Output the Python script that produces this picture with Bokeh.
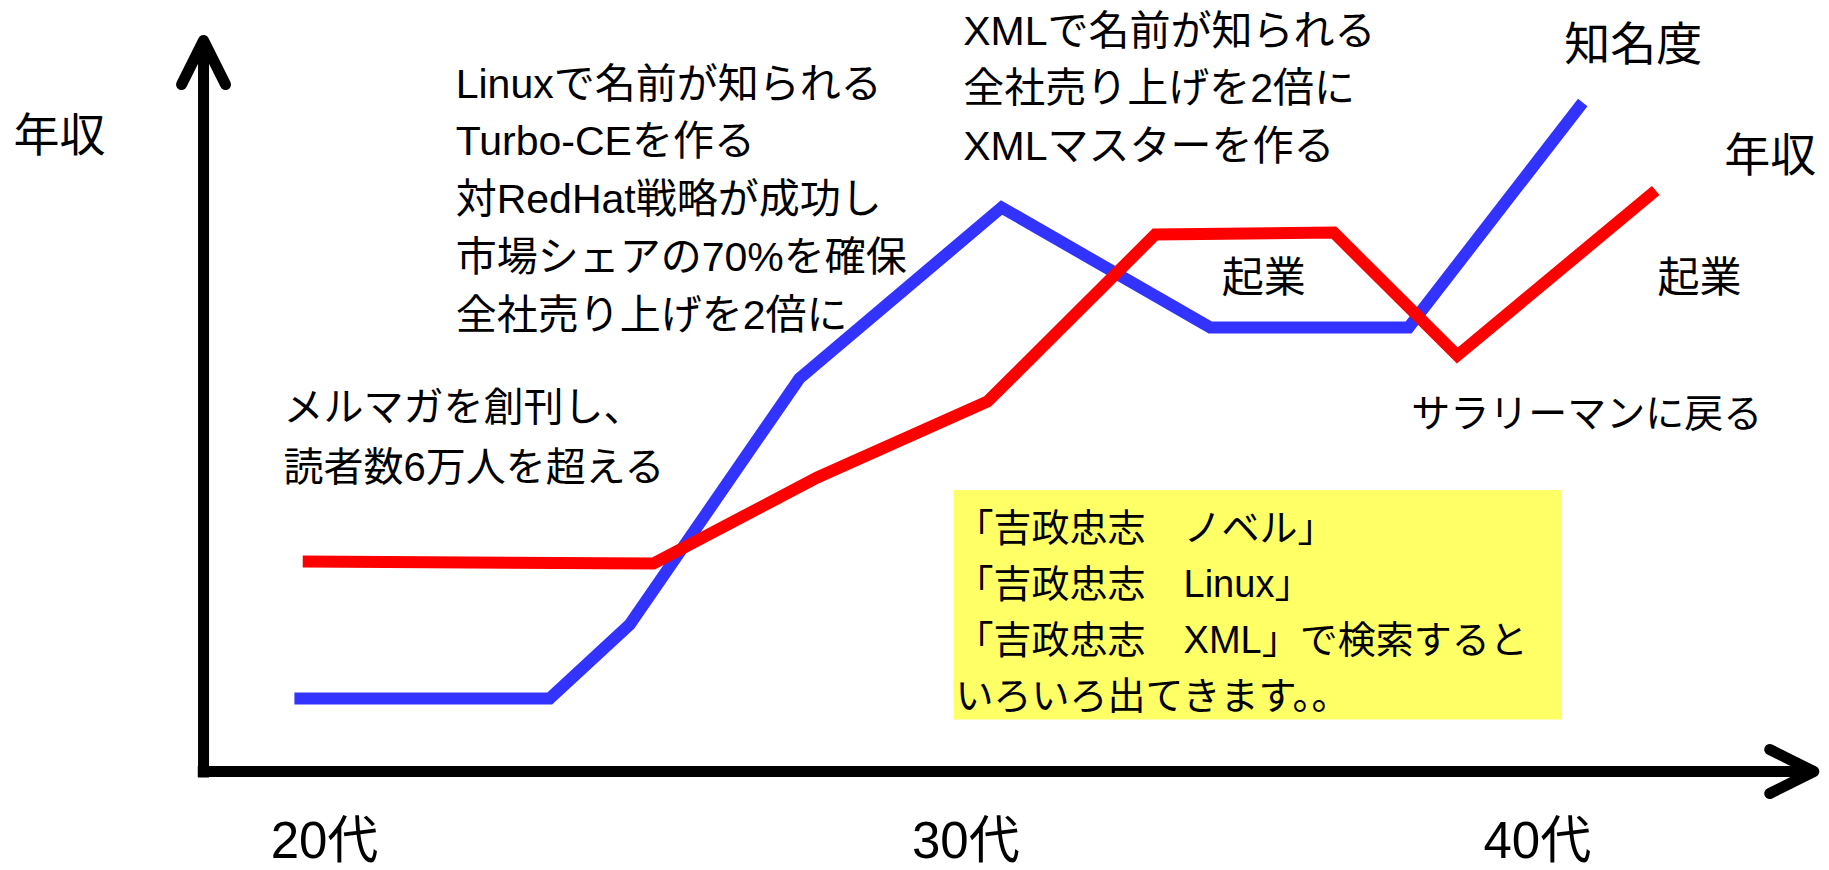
from bokeh.plotting import figure
from bokeh.models import Range1d, Arrow, OpenHead
from bokeh.core.properties import value
from bokeh.embed import file_html
from bokeh.resources import INLINE

# ---- data (x: age, y: relative level) ----
blue_age = [19.53, 23.52, 24.77, 27.42, 30.58, 33.84, 36.94, 39.66]   # 知名度
blue_level = [9.92, 9.92, 19.97, 53.40, 76.63, 60.33, 60.33, 90.90]
red_age = [19.66, 25.14, 27.70, 30.36, 32.98, 35.77, 37.70, 40.80]    # 年収
red_level = [28.53, 28.26, 39.95, 50.27, 72.96, 73.23, 56.52, 78.94]

tick_pos = [20, 30.02, 38.95]
tick_labels = ["20代", "30代", "40代"]

career_text = [
    "Linuxで名前が知られる\nTurbo-CEを作る\n対RedHat戦略が成功し\n市場シェアの70%を確保\n全社売り上げを2倍に",
    "XMLで名前が知られる\n全社売り上げを2倍に\nXMLマスターを作る",
]
career_x = [22.05, 29.98]
career_y = [96.6, 103.8]

mail_text = ["メルマガを創刊し、\n読者数6万人を超える"]
mail_x = [19.36]
mail_y = [52.45]

back_text = ["サラリーマンに戻る"]
back_x = [36.98]
back_y = [51.63]

box_text = ["「吉政忠志　ノベル」\n「吉政忠志　Linux」\n「吉政忠志　XML」で検索すると\nいろいろ出てきます。。"]
box_left, box_right, box_top, box_bottom = 29.83, 39.33, 38.25, 7.07
box_text_x = [29.86]
box_text_y = [36.0]

mid_text = ["起業", "起業"]
mid_x = [34.02, 40.83]
mid_y = [70.38, 70.38]

big_text = ["知名度", "年収", "年収"]
big_x = [39.37, 41.87, 15.14]
big_y = [102.31, 87.36, 89.95]

FONT = value("Liberation Sans, Noto Sans CJK JP")

p = figure(width=1829, height=870,
           x_range=Range1d(14.9375, 43.515625), y_range=Range1d(-13.451, 104.755),
           output_backend="svg", toolbar_location=None, min_border=0)
p.axis.visible = False
p.grid.visible = False
p.outline_line_color = None
p.background_fill_color = "white"
p.border_fill_color = "white"

# yellow box
p.quad(left=[box_left], right=[box_right], top=[box_top], bottom=[box_bottom],
       fill_color="#FFFF66", line_color=None)

# lines
p.line(blue_age, blue_level, line_color="#3333FF", line_width=12, line_join="miter")
p.line(red_age, red_level, line_color="#FF0000", line_width=12, line_join="miter")

# axes arrows
p.add_layout(Arrow(end=OpenHead(size=44, line_width=11, line_join="round", line_cap="round"),
                   x_start=18.11, y_start=-0.8, x_end=18.11, y_end=99.32,
                   line_width=11, line_color="black"))
p.add_layout(Arrow(end=OpenHead(size=44, line_width=11, line_join="round", line_cap="round"),
                   x_start=18.02, y_start=0, x_end=43.27, y_end=0,
                   line_width=11, line_color="black"))

# texts
p.text(x=career_x, y=career_y, text=career_text, text_font=FONT, text_font_size="41px",
       text_baseline="top", text_align="left", text_line_height=1.26, text_color="black")
p.text(x=mail_x, y=mail_y, text=mail_text, text_font=FONT, text_font_size="40px",
       text_baseline="top", text_align="left", text_line_height=1.35, text_color="black")
p.text(x=back_x, y=back_y, text=back_text, text_font=FONT, text_font_size="39px",
       text_baseline="top", text_align="left", text_color="black")
p.text(x=box_text_x, y=box_text_y, text=box_text, text_font=FONT, text_font_size="38px",
       text_baseline="top", text_align="left", text_line_height=1.34, text_color="black")
p.text(x=mid_x, y=mid_y, text=mid_text, text_font=FONT, text_font_size="42px",
       text_baseline="top", text_align="left", text_color="black")
p.text(x=big_x, y=big_y, text=big_text, text_font=FONT, text_font_size="46px",
       text_baseline="top", text_align="left", text_color="black")
p.text(x=tick_pos, y=[-5.57] * len(tick_pos), text=tick_labels, text_font=FONT,
       text_font_size="51px", text_baseline="top", text_align="center", text_color="black")

open("out.html", "w").write(file_html(p, INLINE))
